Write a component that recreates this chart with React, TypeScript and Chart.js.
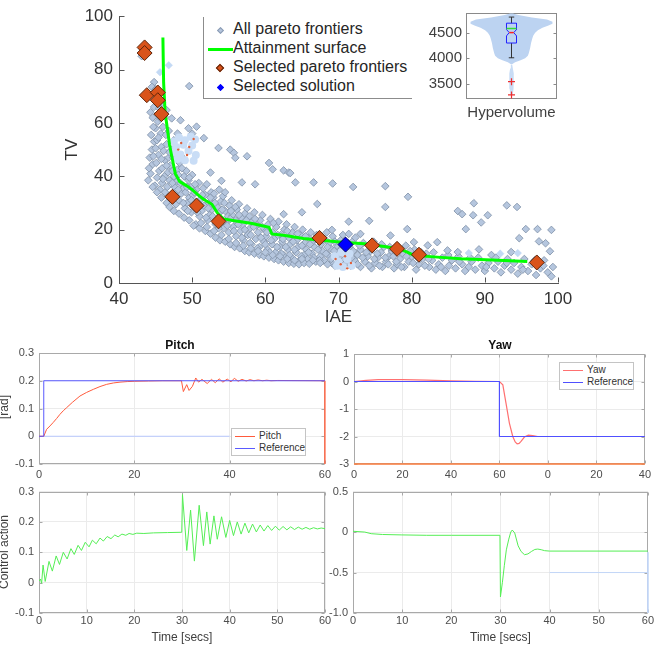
import React, { useEffect, useRef } from 'react';
import { Chart, registerables } from 'chart.js';

Chart.register(...registerables);

const FONT = '"Liberation Sans", Arial, Helvetica, sans-serif';
Chart.defaults.font.family = FONT;
Chart.defaults.color = '#404040';

// ================= DATA =================
// --- Pareto scatter: IAE (x) vs TV (y) ---
const paretoBand: [number, number][] = [
  [44.0,38.5],[44.3,41.0],[44.6,44.5],[44.2,47.0],[44.5,50.0],[44.8,53.0],[44.4,55.5],[45.0,58.0],[45.3,60.5],[45.6,62.0],
  [44.9,36.5],[45.2,39.5],[45.5,42.0],[45.1,45.0],[45.4,48.0],[45.8,51.0],[45.2,53.5],[45.7,56.0],[46.0,58.5],[45.6,35.0],
  [45.9,37.5],[46.2,40.0],[45.9,43.0],[46.3,46.0],[46.1,49.5],[46.5,52.0],[46.4,55.5],[46.8,57.0],[46.3,34.0],[46.6,36.0],
  [46.9,38.5],[46.7,41.5],[47.0,44.0],[46.8,47.0],[47.2,50.0],[47.5,53.5],[48.0,56.0],
  [44.3,64.0],[44.8,66.0],[45.5,65.5],[46.2,62.5],[44.6,62.0],[45.9,67.5],
  [47.1,31.5],[47.4,33.5],[47.6,36.0],[47.9,38.0],[47.5,40.0],[48.0,42.5],[48.3,45.0],[48.5,47.5],[47.8,29.5],[48.2,31.0],
  [48.5,33.5],[48.8,35.5],[48.4,37.5],[48.9,40.0],[49.2,42.0],[49.0,28.0],[49.3,30.0],[49.6,32.0],[49.1,34.0],[49.8,36.0],
  [49.5,38.5],[50.0,40.5],[49.9,26.5],[50.2,28.5],[50.5,30.5],[50.1,33.0],[50.6,35.0],[50.9,37.5],[51.0,25.0],[51.3,27.0],
  [51.6,29.0],[51.2,31.5],[51.8,33.0],[51.5,35.5],[52.0,37.0],
  [52.1,23.5],[52.4,25.5],[52.7,27.5],[52.3,30.0],[52.9,32.0],[52.6,34.0],[53.2,22.0],[53.5,24.0],[53.8,26.5],[53.4,28.5],
  [53.9,30.5],[54.2,32.5],[53.7,35.0],[54.3,20.5],[54.6,22.5],[54.9,25.0],[54.5,27.0],[55.1,29.0],[55.4,31.0],[55.0,19.0],
  [55.6,21.0],[55.9,23.5],[55.5,25.5],[56.1,27.5],[56.4,29.5],[56.0,17.5],[56.6,19.5],
  [56.9,22.0],[56.7,24.5],[57.2,26.0],[57.5,28.0],[57.0,16.0],[57.6,18.0],[57.9,20.5],[58.2,23.0],[57.8,25.0],[58.5,26.5],
  [58.1,14.5],[58.7,16.5],[59.0,19.0],[58.8,21.5],[59.3,23.5],[59.6,25.5],[59.2,13.5],[59.8,15.5],[60.1,17.5],[59.9,20.0],
  [60.4,22.0],[60.7,24.0],[60.3,12.5],[60.9,14.5],[61.2,16.5],[61.0,19.0],[61.5,21.0],[61.8,23.0],[61.4,11.5],[62.0,13.5],
  [62.3,15.5],[62.1,18.0],[62.6,20.0],[62.9,22.0],[62.5,10.5],[63.1,12.5],[63.4,14.5],[63.2,17.0],[63.7,19.0],[64.0,21.0],
  [63.6,9.5],[64.2,11.5],[64.5,13.5],[64.3,16.0],[64.8,18.0],[65.1,20.0],[64.7,8.5],[65.3,10.5],[65.6,12.5],[65.4,15.0],
  [65.9,17.0],[66.2,19.0],[65.8,9.0],[66.4,11.0],[66.7,13.5],[66.5,15.5],[67.0,18.0],[66.9,8.0],[67.5,10.0],[67.8,12.0],
  [67.6,14.5],[68.1,16.5],[68.4,19.0],[68.0,8.5],[68.6,10.5],[68.9,13.0],[68.7,15.0],[69.2,17.5],[69.1,7.5],[69.7,9.5],[70.0,11.5],
  [69.8,14.0],[70.3,16.0],[70.6,18.0],[70.2,7.0],[70.8,9.0],[71.1,11.0],[71.5,13.5],[71.9,15.5],[72.3,17.0],[71.7,6.5],
  [72.2,8.5],[72.6,10.5],[73.0,12.5],[73.4,15.0],[73.0,6.0],[73.6,8.0],[74.0,10.0],[74.4,12.0],[74.8,15.5],[74.5,5.5],
  [75.0,7.5],[75.4,9.5],[75.8,11.5],[76.2,13.5],[76.0,6.0],[76.5,8.0],[76.9,10.0],[77.3,12.0],[77.6,5.5],[78.0,7.0],
  [78.4,9.0],[78.8,11.0],[79.2,14.0],[79.0,6.0],[79.6,8.0],[80.0,10.0],[80.4,12.5],[80.6,5.0],[81.0,7.0],[81.5,9.0],
  [82.0,11.0],[82.4,6.0],[82.8,8.5],
  [83.3,5.0],[83.7,7.0],[84.2,9.5],[84.6,4.5],[85.1,6.5],[85.5,8.5],[86.0,5.5],[86.4,10.0],[86.9,7.0],[87.3,4.5],
  [87.8,6.0],[88.2,8.0],[88.7,5.0],[89.1,9.5],[89.6,6.5],[90.0,4.5],[90.5,7.5],[90.9,10.5],[91.3,5.5],[91.8,8.0],
  [92.2,4.0],[92.7,6.5],[93.1,9.0],[93.6,5.0],[94.0,7.5],[94.5,3.5],[95.0,6.0],[95.4,9.0],[95.9,4.5],[96.4,7.0],
  [97.0,3.0],[97.6,5.5],[98.1,8.5],[98.6,4.0],[99.1,2.5],[99.3,6.0],
];
const paretoBandExtra: [number, number][] = [
  [44.1,43],[44.7,47.5],[45.0,50.5],[45.4,54.5],[44.7,58.5],[45.8,46.5],[46.0,39],[46.5,44],[46.9,49],[47.3,42],
  [47.3,37.5],[47.7,34],[48.1,40.5],[48.6,43],[48.1,35],[48.8,30],[49.3,36],[49.6,39.5],[49.4,27],[49.9,31],
  [50.3,34],[50.4,37],[50.7,26.5],[51.0,29.5],[51.4,33],[51.9,24.5],[52.2,28],[52.5,32],[52.8,25],[53.1,30],
  [53.0,33.5],[53.6,20.5],[53.9,23],[54.1,27.5],[54.4,30],[54.8,21.5],[55.2,24],[55.3,27],[55.7,19.5],[55.9,28.5],
  [56.3,22],[56.4,25.5],[56.8,17],[57.2,20],[57.4,23.5],[57.9,15],[58.0,18],[58.4,21],[58.6,24],[58.9,13],
  [59.4,17],[59.6,21],[60.0,14.5],[60.2,19],[60.6,11.5],[60.8,16],[61.1,22.5],[61.6,13.5],[61.7,18],[62.2,11],
  [62.4,16.5],[62.8,13.5],[63.0,19.5],[63.3,10.5],[63.8,15.5],[64.0,12.5],[64.4,18.5],[64.9,10],[65.0,14],[65.5,17.5],
  [65.9,11.5],[66.1,14.5],[66.6,9.5],[66.8,16.5],[67.2,12.5],[67.4,8.5],[67.8,16],[68.3,11],[68.5,13.5],[69.0,9],
  [69.4,12],[69.5,15.5],[70.0,9.5],[70.5,13],[71.0,7.5],[71.3,15],[71.8,9.5],[72.0,12],[72.6,7],[72.9,14],
  [73.3,9.5],[73.8,11.5],[74.2,6.5],[74.3,13.5],[74.9,9],[75.3,11],[75.6,6.5],[75.9,14.5],[76.4,9.5],[76.8,7],
  [77.0,13.5],[77.5,10],[77.9,8],[78.2,12.5],[78.6,6],[79.3,10],[79.8,12],[80.2,7.5],[80.8,9.5],[81.3,11.5],
  [81.8,6.5],[82.3,9],[83.0,11.5],[84.0,6],[85.0,10.5],[86.5,8],[88.0,9.5],[90.2,6],[91.5,9.5],[93.0,7.5],
  [95.2,5],[96.8,8.5],[98.0,6.5],
  [50.5,22],[51.0,20.5],[51.8,19.5],[52.5,18.5],[53.2,17],[53.8,16],[54.5,15.5],[55.2,14.5],[55.8,13.5],[56.5,13],
  [57.2,12],[57.8,11.5],[58.5,11],[59.2,10.5],[59.8,10],[60.5,9.5],[61.2,9],[61.8,8.5],[62.5,8],[63.2,7.5],
  [63.9,7.2],[64.6,7],[65.3,7.5],[66.0,7.2],[47.5,27],[48.2,26],[48.9,24.5],[49.6,23.5],[50.2,21.5],[46.5,30],
  [45.8,32],[45.2,34],[44.6,36],[46.9,28.5],
  [51.2,22.5],[52.0,21],[53.0,19.5],[54.0,18],[55.0,16.5],[56.0,15],[57.0,14],[58.0,13],[59.0,12],[60.0,11.5],
  [61.0,10.5],[62.0,10],[63.0,9],[64.0,8.5],[65.0,9],[66.5,8.5],[67.5,7.5],[68.5,7],[69.5,6.5],
];
const paretoOutliers: [number, number][] = [
  [49.6,73.8],[44.8,75.3],[44.5,73.5],[43.1,85.0],[45.0,72.6],[46.5,64.8],[47.2,61.7],[48.4,61.0],[49.5,58.0],[50.6,58.6],
  [50.0,56.0],[51.6,54.3],[53.6,50.6],[55.2,50.0],[55.7,48.8],[57.5,47.5],[55.9,46.9],[58.6,37.0],[56.8,37.7],[60.5,45.0],
  [61.0,42.6],[62.5,42.2],[63.2,41.4],[64.1,37.7],[66.6,37.7],[67.1,29.6],[65.0,26.5],[54.5,34.0],[54.0,38.3],[52.5,41.4],
  [47.4,47.0],[69.2,37.3],[72.0,36.0],[76.4,36.3],[79.5,32.3],[76.4,28.5],[86.3,27.0],[86.9,25.8],[88.5,29.9],[88.4,25.4],
  [90.4,25.4],[89.5,22.7],[87.4,20.2],[93.0,29.1],[94.4,28.5],[95.6,20.2],[97.2,20.2],[99.1,19.9],[94.7,16.8],[97.4,15.6],
  [98.3,14.9],[98.9,11.9],[93.6,11.6],[89.2,12.6],[86.3,11.6],[84.9,12.2],[83.5,15.3],[82.2,14.1],[80.3,15.3],[79.4,20.2],
  [77.1,17.8],[74.2,23.3],[71.4,23.0],[73.0,18.4],[71.4,18.4],[69.1,19.9],[62.5,25.8],[63.4,41.2],
];
const paretoPale: [number, number][] = [[46.8,81.6],[45.6,79.0],[87.8,11.2],[92.1,11.0],[94.5,11.2]];
const paleBlob: [number, number][] = [
  [47.5,53],[48.2,54.5],[49.0,53.5],[49.8,54.8],[50.4,53.8],[47.8,51],[48.8,51.8],[50.0,51.5],[47.6,49],[48.4,48.2],
  [49.5,49.5],[50.5,48],[48.0,46.5],[49.0,46],[50.2,45.8],
  [69.5,10],[70.0,8],[70.6,6],[71.2,9],[71.8,6.5],[70.4,11.5],[69.8,6.5],[71.5,11],
];
const paleRedDots: [number, number][] = [
  [48.5,52.5],[49.6,51],[50.2,54],[49.3,48],[48.1,50],
  [69.6,9],[70.3,7],[71.2,5.5],[71.7,7.5],[70.9,10],
];
const attainmentSurface: [number, number][] = [
  [46.0,92],[46.1,75],[46.3,64],[46.6,58],[46.9,52],[47.1,49],[47.4,45],[47.7,41],[48.3,38],[49.2,36.5],[50.0,35],
  [50.8,33],[51.5,31.5],[52.7,29.5],[53.5,26],[54.3,24],[56.0,23.2],[58.2,22.3],[60.5,20.9],[60.9,18.4],[62.7,17.8],
  [65.2,16.7],[68.0,15.9],[70.5,15.3],[73.5,14.7],[76.5,13.6],[78.5,12.6],[79.4,11.6],[80.3,10.4],[83.5,9.7],[86.7,9.1],
  [91.0,8.6],[95.8,8.1],
];
const selectedFrontiers: [number, number][] = [
  [43.5,88.3],[43.5,86.2],[43.8,70.4],[45.3,71.4],[45.3,68.5],[45.8,63.3],[47.3,32.3],[50.6,29.0],[53.6,23.1],[67.4,16.9],
  [74.6,14.1],[78.0,12.8],[81.0,10.6],[97.1,7.7],
];
const selectedSolution: [number, number][] = [[70.96, 14.4]];

// --- Hypervolume violin inset ---
const hvTicks = [3500, 4000, 4500];
const violinLevels = [4880, 4850, 4800, 4760, 4720, 4680, 4640, 4600, 4550, 4500, 4450, 4400, 4300, 4200, 4100, 4050, 4000, 3960, 3920, 3890];
const violinHalfWidths = [0.03, 0.15, 0.45, 0.78, 0.9, 0.9, 0.8, 0.68, 0.58, 0.52, 0.48, 0.46, 0.43, 0.41, 0.38, 0.36, 0.3, 0.2, 0.08, 0.02];
const violinTailLevels = [3880, 3800, 3700, 3600, 3500, 3400, 3300, 3240];
const violinTailHalfWidths = [0.015, 0.03, 0.05, 0.05, 0.045, 0.04, 0.03, 0.01];
const hvQ1 = 4300, hvQ3 = 4690, hvMedian = 4505, hvNotchLo = 4440, hvNotchHi = 4565, hvMean = 4585;
const hvWhiskerLo = 4010, hvWhiskerHi = 4810;
const hvOutliers = [3540, 3280];

// --- Pitch response ---
const pitchResponse: [number, number][] = [
  [0,0],[1,0],[1.6,0.025],[2.3,0.037],[3,0.05],[3.7,0.064],[4.4,0.079],[5.1,0.092],[5.8,0.103],[7,0.122],[8.6,0.145],
  [10,0.158],[11.4,0.169],[12.8,0.179],[14.2,0.187],[15.6,0.192],[17,0.195],[18.5,0.197],[20,0.198],[23,0.199],[26,0.2],
  [29.9,0.2],[30.3,0.161],[31,0.186],[31.5,0.165],[32.2,0.18],[32.9,0.21],[33.5,0.195],[34.2,0.205],[35.3,0.19],[36.2,0.205],
  [37,0.193],[37.8,0.207],[38.6,0.195],[39.5,0.206],[40.3,0.196],[41,0.209],[41.8,0.198],[42.6,0.205],[43.5,0.199],
  [44.3,0.204],[45.1,0.2],[46,0.203],[46.9,0.2],[47.8,0.202],[48.7,0.2],[50,0.201],[60,0.2],
];
const pitchReference: [number, number][] = [[0,0],[1,0],[1,0.2],[60,0.2]];
const pitchGhostReference: [number, number][] = [[1,0],[40,0]];
const pitchGhostEdge: [number, number][] = [[60,-0.1],[60,0.2]];

// --- Yaw response ---
const yawResponse: [number, number][] = [
  [0,0],[5,0.04],[10,0.07],[20,0.07],[30,0.05],[40,0.02],[50,0.005],[60,0],[61.4,-0.12],[62.7,-0.79],[64.1,-1.51],
  [65.5,-2.0],[66.5,-2.2],[67.3,-2.27],[68.1,-2.25],[68.9,-2.18],[70.3,-2.02],[71.9,-1.95],[73.7,-1.97],[75.8,-2.0],[120,-2],
];
const yawReference: [number, number][] = [[0,0],[60,0],[60,-2],[120,-2]];
const yawBaseline: [number, number][] = [[0,-3],[120,-3]];
const yawTickLabels = ['0', '20', '40', '60', '0', '20', '40'];

// --- Control actions ---
const pitchControl: [number, number][] = [
  [0,0.005],[0.3,0.012],[0.55,-0.002],[0.85,0.058],[1.3,0.004],[2.1,0.07],[2.8,0.038],[3.6,0.088],[4.3,0.06],[5.1,0.1],
  [5.9,0.078],[6.7,0.112],[7.4,0.093],[8.2,0.123],[8.9,0.106],[9.7,0.133],[10.5,0.118],[11.2,0.14],[12.0,0.128],[12.8,0.147],
  [13.5,0.137],[14.3,0.152],[15.1,0.145],[15.9,0.157],[16.6,0.151],[17.4,0.16],[18.2,0.156],[18.9,0.162],[19.7,0.159],
  [20.5,0.163],[22,0.162],[24,0.164],[27,0.165],[29.95,0.166],[30.1,0.29],[31,0.106],[31.8,0.239],[32.6,0.071],[33.6,0.255],
  [34.5,0.122],[35.2,0.233],[35.9,0.127],[36.7,0.22],[37.4,0.143],[38.3,0.217],[39.2,0.149],[40,0.205],[40.8,0.155],
  [41.6,0.2],[42.4,0.16],[43.2,0.196],[44,0.164],[44.8,0.193],[45.6,0.167],[46.4,0.19],[47.2,0.17],[48,0.188],[48.8,0.172],
  [49.6,0.186],[50.4,0.173],[51.2,0.185],[52,0.174],[52.8,0.184],[53.6,0.175],[54.4,0.183],[55.2,0.176],[56,0.182],
  [56.8,0.176],[57.6,0.181],[58.4,0.177],[59.2,0.18],[60,0.178],
];
const yawControl: [number, number][] = [
  [0,0.01],[2.4,0],[3.7,-0.02],[6,-0.03],[9.8,-0.035],[15,-0.04],[20,-0.04],[29.9,-0.04],[30,-0.8],[30.4,-0.62],
  [30.8,-0.41],[31.2,-0.22],[31.7,-0.087],[32.1,0.0],[32.4,0.025],[32.9,-0.01],[33.6,-0.17],[34.2,-0.24],[34.9,-0.28],
  [35.6,-0.27],[36.3,-0.24],[37,-0.215],[37.6,-0.21],[38.3,-0.218],[39,-0.23],[40,-0.235],[60,-0.235],
];
const yawControlGhost: [number, number][] = [[40,-0.5],[60,-0.5]];
const yawControlEdge: [number, number][] = [[60,-0.25],[60,-1]];

// ================= HELPERS =================
const xy = (pts: [number, number][]) => pts.map(([x, y]) => ({ x, y }));

const decorPlugin = {
  id: 'decor',
  beforeDatasetsDraw(chart: any, _args: any, opts: any) {
    const { ctx, chartArea: a, scales } = chart;
    const xs = scales.x, ys = scales.y;
    ctx.save();
    ctx.lineWidth = 1;
    const L = Math.round(a.left) + 0.5, R = Math.round(a.right) - 0.5;
    const T = Math.round(a.top) + 0.5, B = Math.round(a.bottom) - 0.5;
    if (opts && opts.tickLen) {
      ctx.strokeStyle = opts.tickColor;
      ctx.beginPath();
      if (opts.xTicks !== false) {
        for (const t of xs.ticks) {
          const p = Math.round(xs.getPixelForValue(t.value)) + 0.5;
          ctx.moveTo(p, B); ctx.lineTo(p, B - opts.tickLen);
          if (opts.mirror) { ctx.moveTo(p, T); ctx.lineTo(p, T + opts.tickLen); }
        }
      }
      for (const t of ys.ticks) {
        const p = Math.round(ys.getPixelForValue(t.value)) + 0.5;
        ctx.moveTo(L, p); ctx.lineTo(L + opts.tickLen, p);
        if (opts.mirror) { ctx.moveTo(R, p); ctx.lineTo(R - opts.tickLen, p); }
      }
      ctx.stroke();
    }
    if (opts && opts.frame) {
      ctx.strokeStyle = opts.frame;
      ctx.strokeRect(L, T, R - L, B - T);
    }
    ctx.restore();
  },
};

function ChartCanvas({ left, top, width, height, make }: { left: number; top: number; width: number; height: number; make: () => any }) {
  const ref = useRef<HTMLCanvasElement>(null);
  useEffect(() => {
    const chart = new Chart(ref.current as HTMLCanvasElement, make());
    return () => chart.destroy();
  }, []);
  return (
    <div style={{ position: 'absolute', left, top, width, height }}>
      <canvas ref={ref} width={width} height={height} style={{ width, height, display: 'block' }} />
    </div>
  );
}

const baseOptions = {
  responsive: false,
  maintainAspectRatio: false,
  animation: false,
  devicePixelRatio: 1,
  events: [],
};

// ================= CONFIGS =================
function mainConfig() {
  return {
    type: 'scatter',
    data: {
      datasets: [
        { label: 'Selected solution', data: xy(selectedSolution), pointStyle: 'rectRot', pointRadius: 7.5, backgroundColor: '#0000ff', borderColor: '#00005a', borderWidth: 1, order: 0 },
        { label: 'Selected pareto frontiers', data: xy(selectedFrontiers), pointStyle: 'rectRot', pointRadius: 7.5, backgroundColor: '#d9531a', borderColor: '#5c2409', borderWidth: 1, order: 1 },
        { label: 'Attainment surface', data: xy(attainmentSurface), showLine: true, borderColor: '#00ff00', borderWidth: 3, pointRadius: 0, order: 2 },
        { label: 'marks', data: xy(paleRedDots), pointStyle: 'circle', pointRadius: 1.2, backgroundColor: '#e0603a', borderWidth: 0, order: 3 },
        { label: 'blob', data: xy(paleBlob), pointStyle: 'circle', pointRadius: 4, backgroundColor: '#c9ddf6', borderWidth: 0, order: 4 },
        { label: 'pale', data: xy(paretoPale), pointStyle: 'rectRot', pointRadius: 3.8, backgroundColor: '#c3d9f4', borderColor: '#c3d9f4', borderWidth: 0.5, order: 5 },
        { label: 'All pareto frontiers', data: xy([...paretoBand, ...paretoBandExtra, ...paretoOutliers]), pointStyle: 'rectRot', pointRadius: 3.8, backgroundColor: '#b5c6de', borderColor: '#8797ae', borderWidth: 0.9, order: 6 },
      ],
    },
    options: {
      ...baseOptions,
      layout: { padding: { left: 0, top: 13, right: 97, bottom: 0 } },
      plugins: { legend: { display: false }, tooltip: { enabled: false }, decor: { tickLen: 5, tickColor: '#555' } },
      scales: {
        x: {
          type: 'linear', min: 40, max: 100,
          afterFit: (s: any) => { s.height = 47; },
          ticks: { stepSize: 10, padding: 6, color: '#333', font: { size: 17 }, maxRotation: 0, autoSkip: false, includeBounds: false },
          grid: { display: false, drawTicks: false },
          border: { display: true, color: '#555', width: 1 },
          title: { display: true, text: 'IAE', color: '#333', font: { size: 17 }, padding: { top: 0, bottom: 2 } },
        },
        y: {
          type: 'linear', min: 0, max: 100,
          afterFit: (s: any) => { s.width = 119; },
          ticks: { stepSize: 20, padding: 6, color: '#333', font: { size: 17 }, autoSkip: false, includeBounds: false },
          grid: { display: false, drawTicks: false },
          border: { display: true, color: '#555', width: 1 },
          title: { display: true, text: 'TV', color: '#333', font: { size: 17 }, padding: { top: 62, bottom: 0 } },
        },
      },
    },
    plugins: [decorPlugin],
  };
}

function insetConfig() {
  const body = [
    ...violinLevels.map((y, i) => ({ x: violinHalfWidths[i], y })),
    ...violinLevels.map((y, i) => ({ x: -violinHalfWidths[i], y })).reverse(),
  ];
  const tail = [
    ...violinTailLevels.map((y, i) => ({ x: violinTailHalfWidths[i], y })),
    ...violinTailLevels.map((y, i) => ({ x: -violinTailHalfWidths[i], y })).reverse(),
  ];
  const bw = 0.11, nw = 0.05, cw = 0.06;
  const box = [
    { x: -bw, y: hvQ1 }, { x: -bw, y: hvNotchLo }, { x: -nw, y: hvMedian }, { x: -bw, y: hvNotchHi }, { x: -bw, y: hvQ3 },
    { x: bw, y: hvQ3 }, { x: bw, y: hvNotchHi }, { x: nw, y: hvMedian }, { x: bw, y: hvNotchLo }, { x: bw, y: hvQ1 }, { x: -bw, y: hvQ1 },
  ];
  const line = (data: any[], color: string, width: number, order: number) => ({ data, showLine: true, borderColor: color, borderWidth: width, pointRadius: 0, order });
  return {
    type: 'scatter',
    data: {
      datasets: [
        { data: hvOutliers.map((y) => ({ x: 0, y })), pointStyle: 'cross', pointRadius: 3.5, borderColor: '#ee3030', borderWidth: 1.2, order: 0 },
        line([{ x: -nw, y: hvMedian }, { x: nw, y: hvMedian }], '#ff2020', 1.5, 1),
        line([{ x: -bw, y: hvMean }, { x: bw, y: hvMean }], '#33dd33', 1.5, 1),
        line(box, '#2222ff', 1, 2),
        line([{ x: 0, y: hvQ3 }, { x: 0, y: hvWhiskerHi }], '#333', 1, 3),
        line([{ x: 0, y: hvQ1 }, { x: 0, y: hvWhiskerLo }], '#333', 1, 3),
        line([{ x: -cw, y: hvWhiskerHi }, { x: cw, y: hvWhiskerHi }], '#333', 1, 3),
        line([{ x: -cw, y: hvWhiskerLo }, { x: cw, y: hvWhiskerLo }], '#333', 1, 3),
        { data: body, showLine: true, fill: 'shape', backgroundColor: '#bcd3f1', borderWidth: 0, pointRadius: 0, order: 5 },
        { data: tail, showLine: true, fill: 'shape', backgroundColor: '#c8dcf5', borderWidth: 0, pointRadius: 0, order: 5 },
      ],
    },
    options: {
      ...baseOptions,
      layout: { padding: { left: 0, top: 13, right: 8, bottom: 0 } },
      plugins: { legend: { display: false }, tooltip: { enabled: false }, decor: { frame: '#8a8a8a', tickLen: 3, tickColor: '#8a8a8a', mirror: true, xTicks: false } },
      scales: {
        x: {
          type: 'linear', min: -1, max: 1,
          afterFit: (s: any) => { s.height = 26; },
          ticks: { display: false },
          grid: { display: false, drawTicks: false },
          border: { display: false },
          title: { display: true, text: 'Hypervolume', color: '#404040', font: { size: 15 }, padding: { top: 0, bottom: 3 } },
        },
        y: {
          type: 'linear', min: 3200, max: 4890,
          afterFit: (s: any) => { s.width = 46; },
          afterBuildTicks: (s: any) => { s.ticks = hvTicks.map((value) => ({ value })); },
          ticks: { padding: 4, color: '#404040', font: { size: 15 }, callback: (v: any) => String(v) },
          grid: { display: false, drawTicks: false },
          border: { display: false },
        },
      },
    },
    plugins: [decorPlugin],
  };
}

function linePlotConfig(p: any) {
  return {
    type: 'scatter',
    data: { datasets: p.datasets.map((d: any) => ({ showLine: true, pointRadius: 0, borderWidth: 1, fill: false, ...d })) },
    options: {
      ...baseOptions,
      layout: { padding: p.padding },
      plugins: { legend: { display: false }, tooltip: { enabled: false }, decor: { frame: '#a9a9a9', tickLen: 3, tickColor: '#a9a9a9', mirror: true } },
      scales: {
        x: {
          type: 'linear', min: p.xMin, max: p.xMax,
          afterFit: (s: any) => { s.height = p.xHeight; },
          ticks: {
            stepSize: p.xStep, padding: p.xPad, color: '#4d4d4d', font: { size: 11 }, maxRotation: 0, autoSkip: false, includeBounds: false,
            callback: p.xLabels ? (_v: any, i: number) => p.xLabels[i] : (v: any) => String(v),
          },
          grid: { color: '#ebebeb', drawTicks: false },
          border: { display: false },
          title: p.xTitle ? { display: true, text: p.xTitle, color: '#404040', font: { size: 12 }, padding: { top: 0, bottom: 10 } } : { display: false },
        },
        y: {
          type: 'linear', min: p.yMin, max: p.yMax,
          afterFit: (s: any) => { s.width = p.yWidth; },
          ticks: { stepSize: p.yStep, padding: 5, color: '#4d4d4d', font: { size: 11 }, autoSkip: false, includeBounds: false },
          grid: { color: '#ebebeb', drawTicks: false },
          border: { display: false },
        },
      },
    },
    plugins: [decorPlugin],
  };
}

const pitchMake = () => linePlotConfig({
  datasets: [
    { data: xy(pitchReference), borderColor: '#5a5aff', order: 1 },
    { data: xy(pitchResponse), borderColor: '#ff5a3c', order: 2 },
    { data: xy(pitchGhostReference), borderColor: '#b9c9ff', order: 4 },
    { data: xy(pitchGhostEdge), borderColor: '#ff6a4a', borderWidth: 1.5, clip: 3, order: 4 },
  ],
  xMin: 0, xMax: 60, xStep: 20, yMin: -0.1, yMax: 0.3, yStep: 0.1,
  padding: { left: 0, top: 23, right: 10, bottom: 0 }, yWidth: 39, xHeight: 16, xPad: 4,
});

const yawMake = () => linePlotConfig({
  datasets: [
    { data: xy(yawReference), borderColor: '#5050ff', order: 1 },
    { data: xy(yawResponse), borderColor: '#ff7070', borderWidth: 1.2, order: 2 },
    { data: xy(yawBaseline), borderColor: '#ff7f3f', borderWidth: 1.5, clip: 3, order: 3 },
  ],
  xMin: 0, xMax: 120, xStep: 20, yMin: -3, yMax: 1, yStep: 1, xLabels: yawTickLabels,
  padding: { left: 0, top: 24, right: 8, bottom: 0 }, yWidth: 32, xHeight: 16, xPad: 4,
});

const pitchControlMake = () => linePlotConfig({
  datasets: [
    { data: xy(pitchControl), borderColor: '#55ee55', order: 1 },
  ],
  xMin: 0, xMax: 60, xStep: 10, yMin: -0.1, yMax: 0.3, yStep: 0.1, xTitle: 'Time [secs]',
  padding: { left: 0, top: 7, right: 10, bottom: 0 }, yWidth: 39, xHeight: 42, xPad: 1,
});

const yawControlMake = () => linePlotConfig({
  datasets: [
    { data: xy(yawControl), borderColor: '#55ee55', order: 1 },
    { data: xy(yawControlGhost), borderColor: '#c3d6f7', order: 3 },
    { data: xy(yawControlEdge), borderColor: '#c3d6f7', clip: 3, order: 3 },
  ],
  xMin: 0, xMax: 60, xStep: 10, yMin: -1, yMax: 0.5, yStep: 0.5, xTitle: 'Time [secs]',
  padding: { left: 0, top: 7, right: 7, bottom: 0 }, yWidth: 31, xHeight: 42, xPad: 1,
});

// ================= OVERLAY PIECES =================
function Diamond({ cx, cy, size, fill, stroke }: { cx: number; cy: number; size: number; fill: string; stroke: string }) {
  return (
    <div style={{
      position: 'absolute', left: cx - size / 2, top: cy - size / 2, width: size, height: size, boxSizing: 'border-box',
      background: fill, border: `1px solid ${stroke}`, transform: 'rotate(45deg)',
    }} />
  );
}

function MainLegend() {
  const rows = [
    { label: 'All pareto frontiers', y: 13 },
    { label: 'Attainment surface', y: 32 },
    { label: 'Selected pareto frontiers', y: 51 },
    { label: 'Selected solution', y: 70 },
  ];
  return (
    <div style={{ position: 'absolute', left: 203, top: 17, width: 209, height: 82, background: '#fff', borderLeft: '1px solid #8c8c8c', borderBottom: '1px solid #8c8c8c', boxSizing: 'border-box' }}>
      <Diamond cx={16} cy={13} size={5} fill="#b5c5dd" stroke="#8b9cb4" />
      <div style={{ position: 'absolute', left: 4, top: 30.5, width: 25, height: 3, background: '#00ff00' }} />
      <Diamond cx={16} cy={51} size={6} fill="#d9531a" stroke="#5c2409" />
      <Diamond cx={16} cy={70} size={5} fill="#0000ff" stroke="#0000ff" />
      {rows.map((r) => (
        <div key={r.label} style={{ position: 'absolute', left: 29, top: r.y - 10, height: 20, lineHeight: '20px', font: `16px ${FONT}`, color: '#262626', whiteSpace: 'nowrap' }}>{r.label}</div>
      ))}
    </div>
  );
}

function LineLegend({ left, top, items }: { left: number; top: number; items: { label: string; color: string }[] }) {
  return (
    <div style={{ position: 'absolute', left, top, width: 75, height: 28, boxSizing: 'border-box', border: '1px solid #c4c4c4', background: '#fff' }}>
      {items.map((it, i) => (
        <div key={it.label} style={{ position: 'absolute', left: 3, top: 1 + i * 12, height: 12, display: 'flex', alignItems: 'center' }}>
          <span style={{ display: 'inline-block', width: 20, height: 0, borderTop: `1px solid ${it.color}`, marginRight: 4 }} />
          <span style={{ font: `10px ${FONT}`, color: '#333', lineHeight: '12px', whiteSpace: 'nowrap' }}>{it.label}</span>
        </div>
      ))}
    </div>
  );
}

function Label({ text, cx, cy, size, bold, rotate }: { text: string; cx: number; cy: number; size: number; bold?: boolean; rotate?: boolean }) {
  return (
    <div style={{
      position: 'absolute', left: cx, top: cy, transform: `translate(-50%, -50%)${rotate ? ' rotate(-90deg)' : ''}`,
      font: `${bold ? 'bold ' : ''}${size}px ${FONT}`, color: bold ? '#111' : '#404040', whiteSpace: 'nowrap', lineHeight: 1,
    }}>{text}</div>
  );
}

export default function App() {
  return (
    <div style={{ position: 'absolute', left: 0, top: 0, width: 655, height: 655, background: '#fff', overflow: 'hidden' }}>
      <ChartCanvas left={0} top={0} width={655} height={330} make={mainConfig} />
      <ChartCanvas left={420} top={0} width={145} height={125} make={insetConfig} />
      <MainLegend />
      <ChartCanvas left={0} top={330} width={335} height={150} make={pitchMake} />
      <ChartCanvas left={322} top={330} width={333} height={150} make={yawMake} />
      <ChartCanvas left={0} top={480} width={335} height={175} make={pitchControlMake} />
      <ChartCanvas left={322} top={480} width={333} height={175} make={yawControlMake} />
      <Label text="Pitch" cx={180} cy={345} size={12} bold />
      <Label text="Yaw" cx={500} cy={345} size={12} bold />
      <Label text="[rad]" cx={4} cy={407} size={12} rotate />
      <Label text="Control action" cx={4} cy={552} size={12} rotate />
      <LineLegend left={231} top={428} items={[{ label: 'Pitch', color: '#ff5a3c' }, { label: 'Reference', color: '#5a5aff' }]} />
      <LineLegend left={559} top={362} items={[{ label: 'Yaw', color: '#ff7070' }, { label: 'Reference', color: '#5050ff' }]} />
    </div>
  );
}
